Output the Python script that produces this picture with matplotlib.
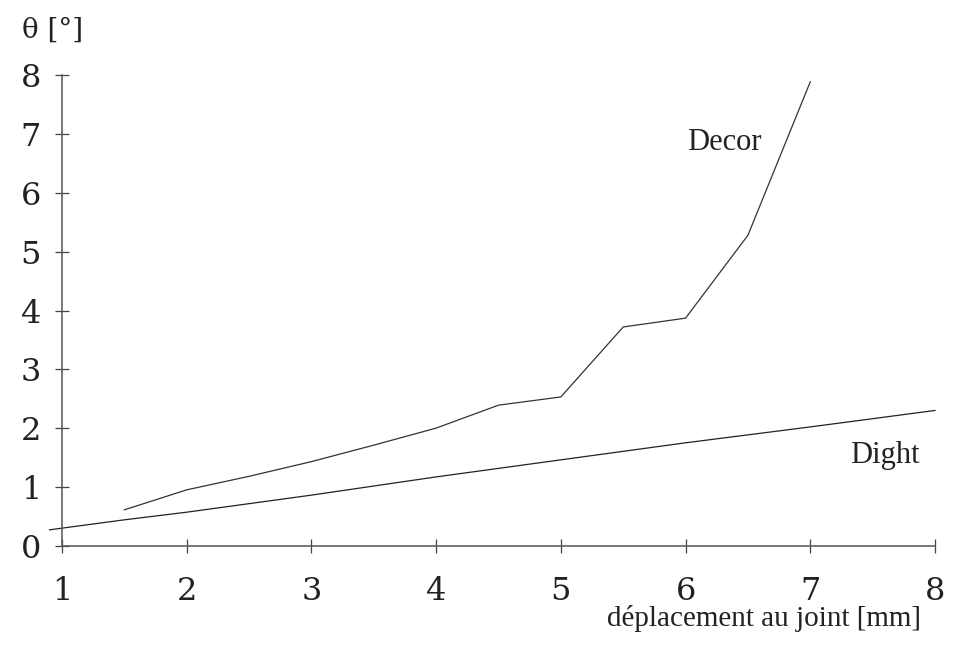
import matplotlib.pyplot as plt

# values
decor_x = [1.5, 2.0, 2.5, 3.0, 3.5, 4.0, 4.5, 5.0, 5.5, 6.0, 6.5, 7.0]
decor_y = [0.61, 0.95, 1.18, 1.43, 1.71, 2.0, 2.39, 2.53, 3.72, 3.87, 5.28, 7.89]

dight_x = [0.9, 1.5, 2.0, 3.0, 4.0, 5.0, 6.0, 7.0, 8.0]
dight_y = [0.27, 0.44, 0.57, 0.86, 1.17, 1.46, 1.75, 2.02, 2.30]

xticks = [1, 2, 3, 4, 5, 6, 7, 8]
yticks = [0, 1, 2, 3, 4, 5, 6, 7, 8]

serif = ['DejaVu Serif']
cond = ['Liberation Serif']

fig = plt.figure(figsize=(9.54, 6.45), dpi=100)
ax = fig.add_axes([62/954, (645-545.7)/645, (935-62)/954, (545.7-75.3)/645])

ax.plot(decor_x, decor_y, color='#333333', lw=0.9)
ax.plot(dight_x, dight_y, color='#222222', lw=0.9, clip_on=False)

ax.set_xlim(1, 8)
ax.set_ylim(0, 8)
for s in ['top', 'right']:
    ax.spines[s].set_visible(False)
for s in ['left', 'bottom']:
    ax.spines[s].set_color('#555555')
    ax.spines[s].set_linewidth(1.1)

ax.set_xticks(xticks)
ax.set_yticks(yticks)
ax.set_xticklabels([str(t) for t in xticks], family=serif, fontsize=23)
ax.set_yticklabels([str(t) for t in yticks], family=serif, fontsize=23)
ax.tick_params(direction='inout', length=10, width=0.9, color='#444444', labelcolor='#222222')
ax.tick_params(axis='x', pad=17)
ax.tick_params(axis='y', pad=10)

fig.text(22/954, 1 - 30/645, 'θ [°]', family=serif, fontsize=20, va='center', ha='left', color='#222222')
fig.text(921/954, 1 - 618/645, 'déplacement au joint [mm]', family=cond, fontsize=21,
         va='center', ha='right', color='#222222')
ax.text(6.31, 6.85, 'Decor', family=cond, fontsize=22, ha='center', va='center', color='#222222')
ax.text(7.6, 1.54, 'Dight', family=cond, fontsize=22, ha='center', va='center', color='#222222')

fig.savefig('out.png', dpi=100)
